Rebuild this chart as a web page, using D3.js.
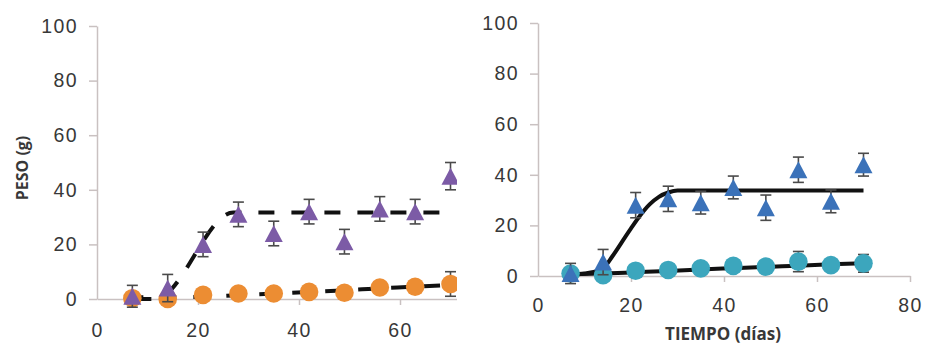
<!DOCTYPE html>
<html>
<head>
<meta charset="utf-8">
<script src="https://cdn.jsdelivr.net/npm/d3@7"></script>
<style>
  body { margin: 0; background: #fff; }
  svg { display: block; }
</style>
</head>
<body>
<script>
// Sampling days (shared by both panels)
const days = [7, 14, 21, 28, 35, 42, 49, 56, 63, 70];
const xTicks = [0, 20, 40, 60, 80];
const yTicks = [0, 20, 40, 60, 80, 100];

// Left panel: triangles (purple) and circles (orange)
const leftTri = [1, 4, 20, 31, 24, 32, 21, 33, 32, 45];
const leftTriErr = [4, 5, 4.5, 4.5, 4.5, 4.5, 4.5, 4.5, 4.5, 5];
const leftCirc = [0.3, 0, 1.5, 2, 2, 2.6, 2.3, 4.2, 4.5, 5.5];
const leftCircErr = [0.5, 0.5, 1, 1, 1, 1, 1, 2, 2, 4.5];
// Left panel fitted curves (dashed)
const leftTriFitX = [7, 11.5, 27, 70];
const leftTriFitY = [0, 0, 31.7, 31.7];
const leftCircFitX = [7, 21, 28, 35, 42, 49, 56, 63, 70];
const leftCircFitY = [0.6, 0.8, 1.4, 2.0, 2.6, 3.2, 3.9, 4.5, 5.2];

// Right panel: triangles (blue) and circles (teal)
const rightTri = [1, 5.5, 28, 30.5, 29, 35, 27, 42, 29.5, 44];
const rightTriErr = [4, 5, 5, 5, 4.5, 4.5, 5, 5, 4.5, 4.5];
const rightCirc = [1, 0.3, 2.1, 2.4, 3, 4, 3.7, 5.7, 4.3, 5];
const rightCircErr = [0.5, 0.5, 1, 1, 1, 1, 1, 4, 1, 3.5];
// Right panel fitted curves (solid)
const rightTriFitX = [7, 10, 12, 14, 16, 18, 20, 22, 24, 26, 28, 30, 70];
const rightTriFitY = [0.5, 1, 1.6, 3, 7.8, 13.3, 18.8, 24, 28.3, 31.3, 33, 33.8, 33.8];
const rightCircFitX = days;
const rightCircFitY = [0.7, 1.0, 1.5, 2.0, 2.6, 3.1, 3.6, 4.1, 4.6, 5.0];

const width = 930, height = 344;
const textColor = "#383838";
const axisColor = "#c9c1c1";

const svg = d3.select("body").append("svg")
  .attr("width", width)
  .attr("height", height)
  .style("font-family", "'Open Sans', sans-serif");

// the left chart is cut off on its right side in the original
svg.append("clipPath").attr("id", "leftClip")
  .append("rect").attr("x", 0).attr("y", 0).attr("width", 457).attr("height", height);

// triangle marker shape centred on the point
function triangle(w, h) {
  return `M0,${-h / 2}L${w / 2},${h / 2}L${-w / 2},${h / 2}Z`;
}

function drawPanel(g, opts) {
  const x = d3.scaleLinear().domain([0, 80]).range(opts.xRange);
  const y = d3.scaleLinear().domain([0, 100]).range(opts.yRange);

  // axes
  const yAxis = g.append("g")
    .attr("transform", `translate(${opts.xRange[0]},0)`)
    .call(d3.axisLeft(y).tickValues(yTicks).tickSize(8).tickSizeOuter(0).tickPadding(11));
  const xAxis = g.append("g")
    .attr("transform", `translate(0,${opts.yRange[0]})`)
    .call(d3.axisBottom(x).tickValues(xTicks).tickSize(6).tickSizeOuter(0).tickPadding(opts.xPad));
  [yAxis, xAxis].forEach(a => {
    a.select(".domain").attr("stroke", axisColor).attr("stroke-width", 1.5);
    a.selectAll(".tick line").attr("stroke", axisColor).attr("stroke-width", 1.5);
    a.selectAll(".tick text")
      .attr("fill", textColor)
      .style("font-size", "19.5px")
      .style("letter-spacing", "1.4px");
  });
  xAxis.selectAll(".tick").filter(d => d === 0).select("line").remove();

  // fitted curves
  const line = d3.line().x(d => x(d[0])).y(d => y(d[1])).curve(d3.curveMonotoneX);
  opts.fits.forEach(f => {
    g.append("path")
      .datum(d3.zip(f.x, f.y))
      .attr("d", line)
      .attr("fill", "none")
      .attr("stroke", "#111")
      .attr("stroke-width", 4)
      .attr("stroke-dasharray", f.dash || null)
      .attr("stroke-dashoffset", f.offset || 0);
  });

  // error bars + markers
  opts.series.forEach(s => {
    const pts = days.map((d, i) => ({ x: d, v: s.values[i], e: s.err[i] }));
    const eb = g.append("g").attr("stroke", "#4a4a4a").attr("stroke-width", 1.6);
    eb.selectAll("line.v").data(pts).enter().append("line")
      .attr("x1", d => x(d.x)).attr("x2", d => x(d.x))
      .attr("y1", d => y(d.v - d.e)).attr("y2", d => y(d.v + d.e));
    eb.selectAll("line.t").data(pts).enter().append("line")
      .attr("x1", d => x(d.x) - 5.5).attr("x2", d => x(d.x) + 5.5)
      .attr("y1", d => y(d.v + d.e)).attr("y2", d => y(d.v + d.e));
    eb.selectAll("line.b").data(pts).enter().append("line")
      .attr("x1", d => x(d.x) - 5.5).attr("x2", d => x(d.x) + 5.5)
      .attr("y1", d => y(d.v - d.e)).attr("y2", d => y(d.v - d.e));

    if (s.shape === "triangle") {
      g.append("g").selectAll("path").data(pts).enter().append("path")
        .attr("d", triangle(18, 17))
        .attr("transform", d => `translate(${x(d.x)},${y(d.v)})`)
        .attr("fill", s.color);
    } else {
      g.append("g").selectAll("circle").data(pts).enter().append("circle")
        .attr("cx", d => x(d.x)).attr("cy", d => y(d.v))
        .attr("r", 9.3)
        .attr("fill", s.color);
    }
  });
}

const left = svg.append("g").attr("clip-path", "url(#leftClip)");
drawPanel(left, {
  xRange: [97, 501],
  yRange: [299, 26],
  xPad: 18,
  fits: [
    { x: leftCircFitX, y: leftCircFitY, dash: "16,17", offset: 5 },
    { x: leftTriFitX, y: leftTriFitY, dash: "16,17", offset: 30 }
  ],
  series: [
    { values: leftCirc, err: leftCircErr, color: "#ec8d33", shape: "circle" },
    { values: leftTri, err: leftTriErr, color: "#7c5ba6", shape: "triangle" }
  ]
});

const right = svg.append("g");
drawPanel(right, {
  xRange: [538, 910],
  yRange: [276, 23],
  xPad: 16,
  fits: [
    { x: rightCircFitX, y: rightCircFitY },
    { x: rightTriFitX, y: rightTriFitY }
  ],
  series: [
    { values: rightCirc, err: rightCircErr, color: "#3ca6bd", shape: "circle" },
    { values: rightTri, err: rightTriErr, color: "#3b72b9", shape: "triangle" }
  ]
});

// axis titles
svg.append("text")
  .attr("transform", "translate(28,168) rotate(-90)")
  .attr("text-anchor", "middle")
  .attr("fill", textColor)
  .style("font-size", "16px")
  .style("font-weight", "bold")
  .text("PESO (g)");

svg.append("text")
  .attr("x", 723)
  .attr("y", 340)
  .attr("text-anchor", "middle")
  .attr("fill", textColor)
  .style("font-size", "17px")
  .style("font-weight", "bold")
  .text("TIEMPO (días)");
</script>
</body>
</html>
